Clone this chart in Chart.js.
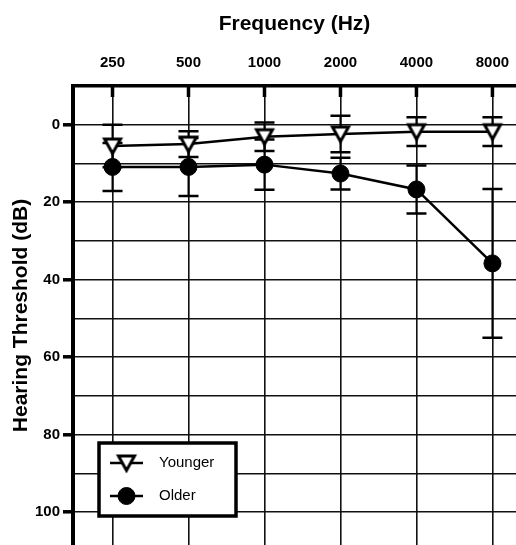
<!DOCTYPE html>
<html>
<head>
<meta charset="utf-8">
<script src="https://cdn.jsdelivr.net/npm/chart.js@4.4.1/dist/chart.umd.min.js"></script>
<style>
  html, body { margin: 0; padding: 0; background: #fff; overflow: hidden; }
  canvas { display: block; }
</style>
</head>
<body>
<canvas id="audiogram" width="516" height="545"></canvas>
<script>
// Audiogram: mean hearing threshold (dB) with SD bars, younger vs older listeners

const frequencies = ['250', '500', '1000', '2000', '4000', '8000'];
const youngerMean = [5.5, 5.0, 3.1, 2.4, 1.8, 1.8];
const youngerSD   = [5.5, 3.3, 3.7, 4.7, 3.7, 3.7];
const olderMean   = [10.9, 10.9, 10.3, 12.6, 16.7, 35.8];
const olderSD     = [6.2, 7.5, 6.5, 4.1, 6.2, 19.2];
const gridLevels  = [0, 10, 20, 30, 40, 50, 60, 70, 80, 90, 100];

const FONT = "'Liberation Sans', Arial, Helvetica, sans-serif";
const INK = '#000';

const toPoints = (vals) => vals.map((v, i) => ({ x: i, y: v }));

// open down-pointing triangle, centred on its bounding box (Prism style)
const triangleMarker = (() => {
    const c = document.createElement('canvas');
    c.width = 24; c.height = 24;
    const g = c.getContext('2d');
    g.beginPath();
    g.moveTo(12 - 8, 12 - 7);
    g.lineTo(12 + 8, 12 - 7);
    g.lineTo(12, 12 + 7.5);
    g.closePath();
    g.fillStyle = '#fff';
    g.fill();
    g.lineWidth = 3;
    g.lineJoin = 'miter';
    g.strokeStyle = INK;
    g.stroke();
    return c;
})();

// no label overhang padding: the plot runs off the right and bottom edges
const noPadding = (scale) => {
    scale.paddingTop = 0;
    scale.paddingBottom = 0;
    scale.paddingLeft = 0;
    scale.paddingRight = 0;
};

// SD whiskers drawn under the markers
const errorBarPlugin = {
    id: 'errorBars',
    beforeDatasetsDraw(chart) {
        const { ctx, scales: { x, y }, chartArea } = chart;
        ctx.save();
        ctx.strokeStyle = INK;
        // thick tick marks hanging from the top border
        ctx.lineWidth = 3.5;
        frequencies.forEach((_, i) => {
            const px = x.getPixelForValue(i);
            ctx.beginPath();
            ctx.moveTo(px, chartArea.top);
            ctx.lineTo(px, chartArea.top + 11);
            ctx.stroke();
        });
        [[youngerMean, youngerSD], [olderMean, olderSD]].forEach(([means, sds]) => {
            means.forEach((m, i) => {
                const px = x.getPixelForValue(i);
                const lo = y.getPixelForValue(m - sds[i]);
                const hi = y.getPixelForValue(m + sds[i]);
                ctx.lineWidth = 2;
                ctx.beginPath();
                ctx.moveTo(px, lo);
                ctx.lineTo(px, hi);
                ctx.stroke();
                ctx.lineWidth = 2.5;
                ctx.beginPath();
                ctx.moveTo(px - 10, lo); ctx.lineTo(px + 10, lo);
                ctx.moveTo(px - 10, hi); ctx.lineTo(px + 10, hi);
                ctx.stroke();
            });
        });
        ctx.restore();
    }
};

// boxed legend sitting inside the plot, bottom-left
const boxLegendPlugin = {
    id: 'boxLegend',
    afterDraw(chart) {
        const { ctx, chartArea } = chart;
        const bx = chartArea.left + 26, by = chartArea.bottom - 102;
        const bw = 137, bh = 73;
        ctx.save();
        ctx.fillStyle = '#fff';
        ctx.fillRect(bx, by, bw, bh);
        ctx.lineWidth = 3.5;
        ctx.strokeStyle = INK;
        ctx.strokeRect(bx, by, bw, bh);

        chart.data.datasets.forEach((ds, i) => {
            const cy = by + 20 + i * 33;
            ctx.lineWidth = 2.5;
            ctx.strokeStyle = INK;
            ctx.beginPath();
            ctx.moveTo(bx + 11, cy);
            ctx.lineTo(bx + 44, cy);
            ctx.stroke();
            ctx.fillStyle = ds.pointBackgroundColor;
            ctx.lineWidth = ds.pointBorderWidth;
            Chart.helpers.drawPoint(ctx, {
                pointStyle: ds.pointStyle,
                rotation: 0,
                radius: ds.pointRadius,
                borderWidth: ds.pointBorderWidth
            }, bx + 27.5, cy);
            ctx.fillStyle = INK;
            ctx.font = '15px ' + FONT;
            ctx.textAlign = 'left';
            ctx.textBaseline = 'middle';
            ctx.fillText(ds.label, bx + 60, cy);
        });
        ctx.restore();
    }
};

new Chart(document.getElementById('audiogram').getContext('2d'), {
    type: 'line',
    data: {
        datasets: [
            {
                label: 'Younger',
                data: toPoints(youngerMean),
                borderColor: INK,
                borderWidth: 2.5,
                pointStyle: triangleMarker,
                pointRadius: 10,
                pointBackgroundColor: '#fff',
                pointBorderColor: INK,
                pointBorderWidth: 2.5,
                tension: 0,
                order: 2
            },
            {
                label: 'Older',
                data: toPoints(olderMean),
                borderColor: INK,
                borderWidth: 2.5,
                pointStyle: 'circle',
                pointRadius: 8.5,
                pointBackgroundColor: INK,
                pointBorderColor: INK,
                pointBorderWidth: 1,
                tension: 0,
                order: 1
            }
        ]
    },
    options: {
        responsive: false,
        animation: false,
        devicePixelRatio: 1,
        layout: { padding: 0, autoPadding: false },
        scales: {
            x: {
                type: 'linear',
                position: 'top',
                min: -0.52,
                max: 5.31,
                afterBuildTicks: (scale) => { scale.ticks = frequencies.map((_, i) => ({ value: i })); },
                afterFit: (scale) => { scale.height = 86; noPadding(scale); },
                ticks: {
                    callback: (v) => frequencies[v],
                    color: INK,
                    font: { family: FONT, size: 15, weight: 'bold' },
                    padding: 14,
                    maxRotation: 0,
                    autoSkip: false
                },
                grid: { color: '#111', lineWidth: 1.6, drawTicks: false },
                border: { display: true, color: INK, width: 3.5 },
                title: {
                    display: true,
                    text: 'Frequency (Hz)',
                    color: INK,
                    font: { family: FONT, size: 21, weight: 'bold' },
                    padding: { top: 12, bottom: 0 }
                }
            },
            y: {
                min: -10,
                max: 108.5,
                reverse: true,
                afterBuildTicks: (scale) => { scale.ticks = gridLevels.map((v) => ({ value: v })); },
                afterFit: (scale) => { scale.width = 73; noPadding(scale); },
                ticks: {
                    callback: (v) => (v % 20 === 0 ? String(v) : ''),
                    color: INK,
                    font: { family: FONT, size: 15, weight: 'bold' },
                    padding: 3
                },
                grid: {
                    color: '#111',
                    lineWidth: 1.6,
                    tickLength: 10,
                    tickWidth: 3.5,
                    tickColor: (ctx) => (ctx.tick && ctx.tick.value % 20 === 0 ? INK : 'rgba(0,0,0,0)')
                },
                border: { display: true, color: INK, width: 4 },
                title: {
                    display: true,
                    text: 'Hearing Threshold (dB)',
                    color: INK,
                    font: { family: FONT, size: 21, weight: 'bold' },
                    padding: { top: 9, bottom: 0 }
                }
            }
        },
        plugins: {
            legend: { display: false },
            tooltip: { enabled: false }
        }
    },
    plugins: [errorBarPlugin, boxLegendPlugin]
});
</script>
</body>
</html>
